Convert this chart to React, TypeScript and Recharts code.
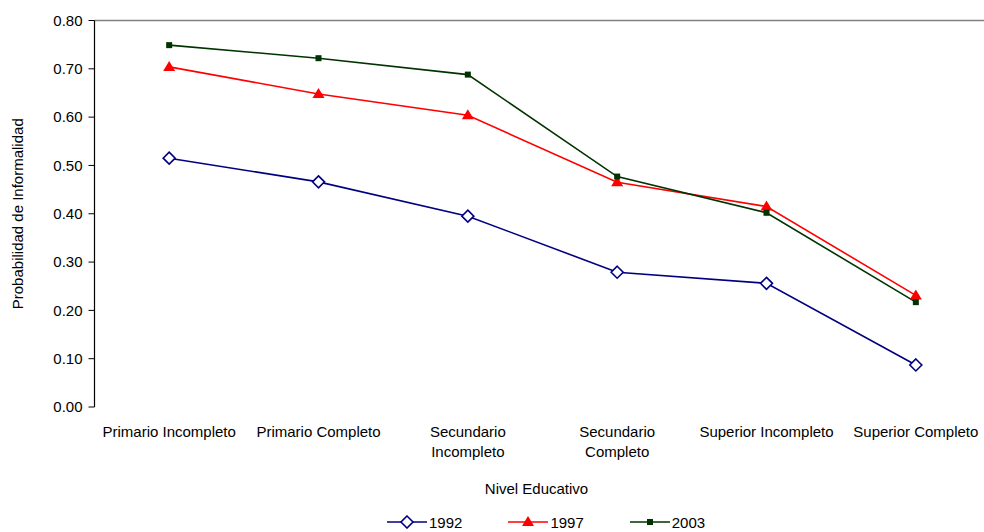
import React from 'react';
import { LineChart, Line, XAxis, YAxis, Legend, ReferenceLine, Label, Text } from 'recharts';

const categories = [
  'Primario Incompleto',
  'Primario Completo',
  'Secundario Incompleto',
  'Secundario Completo',
  'Superior Incompleto',
  'Superior Completo',
];
const values1992 = [0.515, 0.466, 0.395, 0.279, 0.256, 0.087];
const values1997 = [0.704, 0.648, 0.604, 0.465, 0.415, 0.231];
const values2003 = [0.749, 0.722, 0.688, 0.477, 0.402, 0.217];
const yTicks = [0, 0.1, 0.2, 0.3, 0.4, 0.5, 0.6, 0.7, 0.8];
const boundaryTicks = [0, 1, 2, 3, 4, 5, 6];

const data = categories.map((c, i) => ({
  x: i + 0.5,
  name: c,
  y1992: values1992[i],
  y1997: values1997[i],
  y2003: values2003[i],
}));

const FONT = '"Liberation Sans", Arial, sans-serif';
const NAVY = '#000080';
const RED = '#FF0000';
const GREEN = '#003300';

const Diamond = ({ cx, cy }: any) =>
  cx == null ? null : (
    <path
      d={`M${cx},${cy - 6}L${cx + 6},${cy}L${cx},${cy + 6}L${cx - 6},${cy}Z`}
      fill="#fff"
      stroke={NAVY}
      strokeWidth={1.6}
    />
  );
const Triangle = ({ cx, cy }: any) =>
  cx == null ? null : (
    <path d={`M${cx},${cy - 6}L${cx + 6},${cy + 4}L${cx - 6},${cy + 4}Z`} fill={RED} stroke="none" />
  );
const Square = ({ cx, cy }: any) =>
  cx == null ? null : <rect x={cx - 3} y={cy - 3} width={6} height={6} fill={GREEN} />;

const series = [
  { key: 'y1992', name: '1992', color: NAVY, Dot: Diamond },
  { key: 'y1997', name: '1997', color: RED, Dot: Triangle },
  { key: 'y2003', name: '2003', color: GREEN, Dot: Square },
];

const CatTick = (props: any) => {
  const { x, y, payload } = props;
  const idx = Math.round(payload.value - 0.5);
  return (
    <Text
      x={x}
      y={y}
      width={145}
      textAnchor="middle"
      verticalAnchor="start"
      lineHeight={20}
      style={{ fontFamily: FONT, fontSize: 15, fill: '#000' }}
    >
      {categories[idx] ?? ''}
    </Text>
  );
};

const renderLegend = () => (
  <div
    style={{
      display: 'flex',
      alignItems: 'center',
      height: 20,
      marginLeft: 387,
      fontFamily: FONT,
      fontSize: 15,
      color: '#000',
    }}
  >
    {series.map((s, i) => {
      const D = s.Dot;
      return (
        <div key={s.key} style={{ display: 'flex', alignItems: 'center', marginLeft: i === 0 ? 0 : 46 }}>
          <svg width={40} height={14} style={{ display: 'block' }}>
            <line x1={0} y1={7} x2={40} y2={7} stroke={s.color} strokeWidth={1.6} />
            <D cx={20} cy={7} />
          </svg>
          <span style={{ marginLeft: 2 }}>{s.name}</span>
        </div>
      );
    })}
  </div>
);

export default function App() {
  return (
    <div style={{ position: 'absolute', left: 0, top: 0, width: 984, height: 532, overflow: 'hidden', background: '#fff' }}>
      <LineChart width={1000} height={532} data={data} margin={{ top: 20.5, right: 9.5, left: 0, bottom: 0 }}>
        <XAxis
          xAxisId={0}
          dataKey="x"
          type="number"
          domain={[0, 6]}
          ticks={boundaryTicks}
          tickFormatter={() => ''}
          height={0}
          tickSize={6}
          stroke="#000"
          axisLine={{ stroke: '#000', strokeWidth: 1.2 }}
          tickLine={{ stroke: '#000' }}
        />
        <XAxis
          xAxisId="lab"
          dataKey="x"
          type="number"
          domain={[0, 6]}
          ticks={data.map((d) => d.x)}
          tick={<CatTick />}
          height={105}
          axisLine={false}
          tickLine={false}
          tickSize={0}
          tickMargin={19}
          interval={0}
        >
          <Label
            value="Nivel Educativo"
            position="insideBottom"
            offset={18}
            dx={-6}
            style={{ fontFamily: FONT, fontSize: 15, fill: '#000' }}
          />
        </XAxis>
        <YAxis
          domain={[0, 0.8]}
          ticks={yTicks}
          width={94.5}
          tickFormatter={(v: number) => v.toFixed(2)}
          tickSize={6}
          tickMargin={6}
          axisLine={{ stroke: '#000', strokeWidth: 1.2 }}
          tickLine={{ stroke: '#000' }}
          tick={{ fontFamily: FONT, fontSize: 15, fill: '#000' }}
          interval={0}
        >
          <Label
            value="Probabilidad de Informalidad"
            angle={-90}
            position="insideLeft"
            offset={18}
            style={{ fontFamily: FONT, fontSize: 15, fill: '#000', textAnchor: 'middle' }}
          />
        </YAxis>
        <ReferenceLine y={0.8} stroke="#808080" strokeWidth={1.6} />
        {series.map((s) => (
          <Line
            key={s.key}
            type="linear"
            dataKey={s.key}
            name={s.name}
            stroke={s.color}
            strokeWidth={1.6}
            dot={<s.Dot />}
            activeDot={false}
            isAnimationActive={false}
          />
        ))}
        <Legend verticalAlign="bottom" content={renderLegend} />
      </LineChart>
    </div>
  );
}
